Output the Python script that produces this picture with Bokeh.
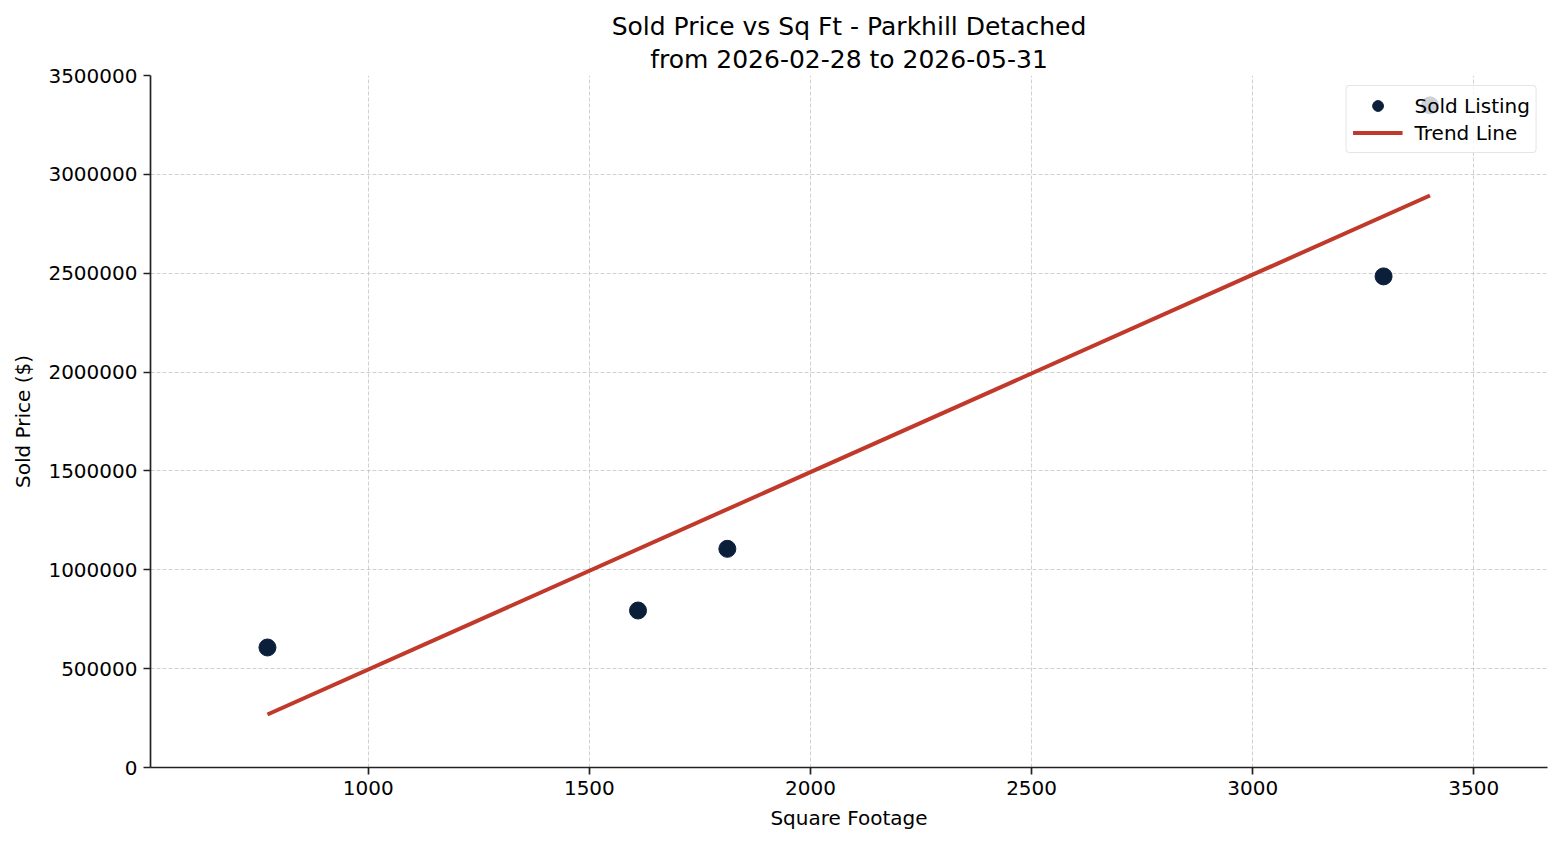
from bokeh.plotting import figure
from bokeh.models import ColumnDataSource, Range1d, FixedTicker, BasicTickFormatter, Title, Legend, LegendItem
from bokeh.embed import file_html
from bokeh.resources import INLINE

# ---- data ----
sqft = [772, 1610, 1812, 3296, 3401]
sold_price = [607000, 794000, 1106000, 2484000, 3349000]
trend_sqft = [772, 3401]
trend_price = [268000, 2893000]
x_ticks = [1000, 1500, 2000, 2500, 3000, 3500]
y_ticks = [0, 500000, 1000000, 1500000, 2000000, 2500000, 3000000, 3500000]

title_line1 = "Sold Price vs Sq Ft - Parkhill Detached"
title_line2 = "from 2026-02-28 to 2026-05-31"

FONT = "DejaVu Sans"
POINT_COLOR = "#0b1f3a"
LINE_COLOR = "#c0392b"

p = figure(width=1560, height=845, output_backend="svg", toolbar_location=None,
           x_range=Range1d(507.5, 3666.7), y_range=Range1d(0, 3500000),
           min_border_left=150, min_border_right=13, min_border_top=75, min_border_bottom=78)

p.title.text = title_line1
p.title.align = "center"
p.title.text_font = FONT
p.title.text_font_size = "25px"
p.title.text_font_style = "normal"
p.title.text_color = "#000000"
p.title.standoff = 0
p.add_layout(Title(text=title_line2, align="center", text_font=FONT, text_font_size="25px",
                   text_font_style="normal", text_color="#000000", standoff=4), "above")

src = ColumnDataSource(dict(x=sqft, y=sold_price))
tsrc = ColumnDataSource(dict(x=trend_sqft, y=trend_price))

line_r = p.line("x", "y", source=tsrc, line_color=LINE_COLOR, line_width=4)
pts_r = p.scatter("x", "y", source=src, size=17, fill_color=POINT_COLOR, line_color=POINT_COLOR)

p.outline_line_color = None
p.background_fill_color = "white"
p.border_fill_color = "white"

for ax in (p.xaxis[0], p.yaxis[0]):
    ax.axis_line_color = "#222222"
    ax.axis_line_width = 1.7
    ax.major_tick_line_color = "#222222"
    ax.major_tick_line_width = 1.7
    ax.major_tick_out = 7
    ax.major_tick_in = 0
    ax.minor_tick_line_color = None
    ax.major_label_text_font = FONT
    ax.major_label_text_font_size = "20px"
    ax.major_label_text_color = "#000000"
    ax.axis_label_text_font = FONT
    ax.axis_label_text_font_size = "20px"
    ax.axis_label_text_font_style = "normal"
    ax.axis_label_text_color = "#000000"
    ax.major_label_standoff = 6
    ax.formatter = BasicTickFormatter(use_scientific=False)

p.xaxis[0].ticker = FixedTicker(ticks=x_ticks)
p.yaxis[0].ticker = FixedTicker(ticks=y_ticks)
p.xaxis[0].axis_label = "Square Footage"
p.yaxis[0].axis_label = "Sold Price ($)"
p.xaxis[0].axis_label_standoff = 8
p.yaxis[0].axis_label_standoff = 10

for g in (p.xgrid[0], p.ygrid[0]):
    g.grid_line_color = "#b0b0b0"
    g.grid_line_alpha = 0.6
    g.grid_line_dash = "4 2"
    g.grid_line_width = 1

legend = Legend(items=[LegendItem(label="Sold Listing", renderers=[pts_r]),
                       LegendItem(label="Trend Line", renderers=[line_r])],
                location="top_right")
legend.label_text_font = FONT
legend.label_text_font_size = "20px"
legend.label_text_color = "#000000"
legend.border_line_color = "#cccccc"
legend.border_line_width = 1.5
legend.border_radius = 4
legend.background_fill_color = "white"
legend.background_fill_alpha = 0.8
legend.margin = 10
legend.padding = 6
legend.spacing = 0
legend.glyph_width = 50
legend.glyph_height = 27
legend.label_height = 27
legend.label_standoff = 12
p.add_layout(legend, "center")

open("out.html", "w").write(file_html(p, INLINE))
